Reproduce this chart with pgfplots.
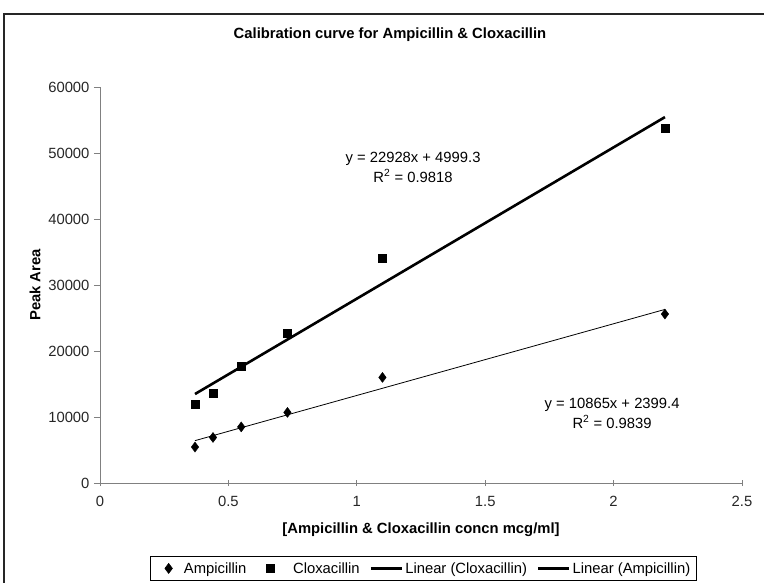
\documentclass[border=0pt]{standalone}
\usepackage{fontspec}
\setmainfont{Liberation Sans}
\usepackage{pgfplots}
\pgfplotsset{compat=1.18}
\usetikzlibrary{plotmarks}
\definecolor{AxGray}{HTML}{808080}
\newcommand{\chartfont}{\fontsize{14.8}{16}\selectfont}
\pgfplotsset{
    markleg/.style={legend image code/.code={\path (-14pt,0pt) (#1,0pt);\draw[##1] plot coordinates {(0pt,0pt)};}},
    lineleg/.style={legend image code/.code={\draw[##1,line width=2.6pt] (0pt,0pt) -- (31pt,0pt);}},
}

\begin{document}
\begin{tikzpicture}[x=1pt,y=1pt]
\begin{axis}[
    at={(0,0)},anchor=origin,
    scale only axis,
    width=642pt,
    height=396pt,
    xmin=0,xmax=2.5,
    ymin=0,ymax=60000,
    xtick={0,0.5,1,1.5,2,2.5},
    ytick={0,10000,...,60000},
    xticklabels={0,0.5,1,1.5,2,2.5},
    scaled y ticks=false,
    /pgf/number format/fixed,
    /pgf/number format/1000 sep={},
    /pgf/number format/assume math mode=true,
    tick label style={font=\chartfont,text=black!85},
    xticklabel style={yshift=-7pt},
    yticklabel style={xshift=-1pt},
    axis x line*=bottom,
    axis y line*=left,
    axis line style={AxGray,line width=0.8pt,-},
    tick style={AxGray,line width=0.8pt},
    major tick length=6pt,
    xtick align=center,
    ytick align=outside,
    xlabel={\bfseries [Ampicillin \& Cloxacillin concn mcg/ml]},
    ylabel={\bfseries Peak Area},
    label style={font=\chartfont},
    xlabel style={at={(axis description cs:0.5,0)},anchor=center,yshift=-47pt},
    ylabel style={at={(axis description cs:0,0.5)},anchor=center,yshift=65pt},
    legend style={at={(axis cs:0.195,0)},anchor=north west,yshift=-73pt,legend columns=4,
        draw=black,line width=0.6pt,font=\chartfont,
        inner xsep=4pt,inner ysep=4pt,
        /tikz/every odd column/.append style={column sep=0pt},
        /tikz/every even column/.append style={column sep=8pt}},
    legend cell align=left,
    clip=false,
]
\addplot[only marks,mark=diamond*,mark size=5pt,black,mark options={fill=black},markleg=13pt]
    coordinates {
    (0.37,5450) (0.44,6900) (0.55,8500) (0.73,10700) (1.1,16000) (2.2,25600)
};
\addplot[only marks,mark=square*,mark size=4pt,black,markleg=20pt]
    coordinates {
    (0.37,11900) (0.44,13600) (0.55,17700) (0.73,22700) (1.1,34100) (2.2,53800)
};
% trend lines (Excel linear fits)
\addplot[black,line width=2.6pt,mark=none,lineleg]
    coordinates {
    (0.37,13483) (2.2,55441)
};
\addplot[black,line width=0.8pt,mark=none,lineleg]
    coordinates {
    (0.37,6420) (2.2,26302)
};
\legend{Ampicillin,Cloxacillin,Linear (Cloxacillin),Linear (Ampicillin)}

\node[font=\fontsize{14.8}{20}\selectfont,align=center] at (axis cs:1.219,47880)
    {y = 22928x + 4999.3\\R\textsuperscript{2} = 0.9818};
\node[font=\fontsize{14.8}{20}\selectfont,align=center] at (axis cs:1.994,10600)
    {y = 10865x + 2399.4\\R\textsuperscript{2} = 0.9839};
\end{axis}
\node[font=\bfseries\chartfont] at (290,448) {Calibration curve for Ampicillin \& Cloxacillin};
\draw[black!85,line width=1.2pt] (-96,-120) rectangle (680,469);
\pgfresetboundingbox
\useasboundingbox (-100,-99) rectangle (664,483);
\end{tikzpicture}
\end{document}
